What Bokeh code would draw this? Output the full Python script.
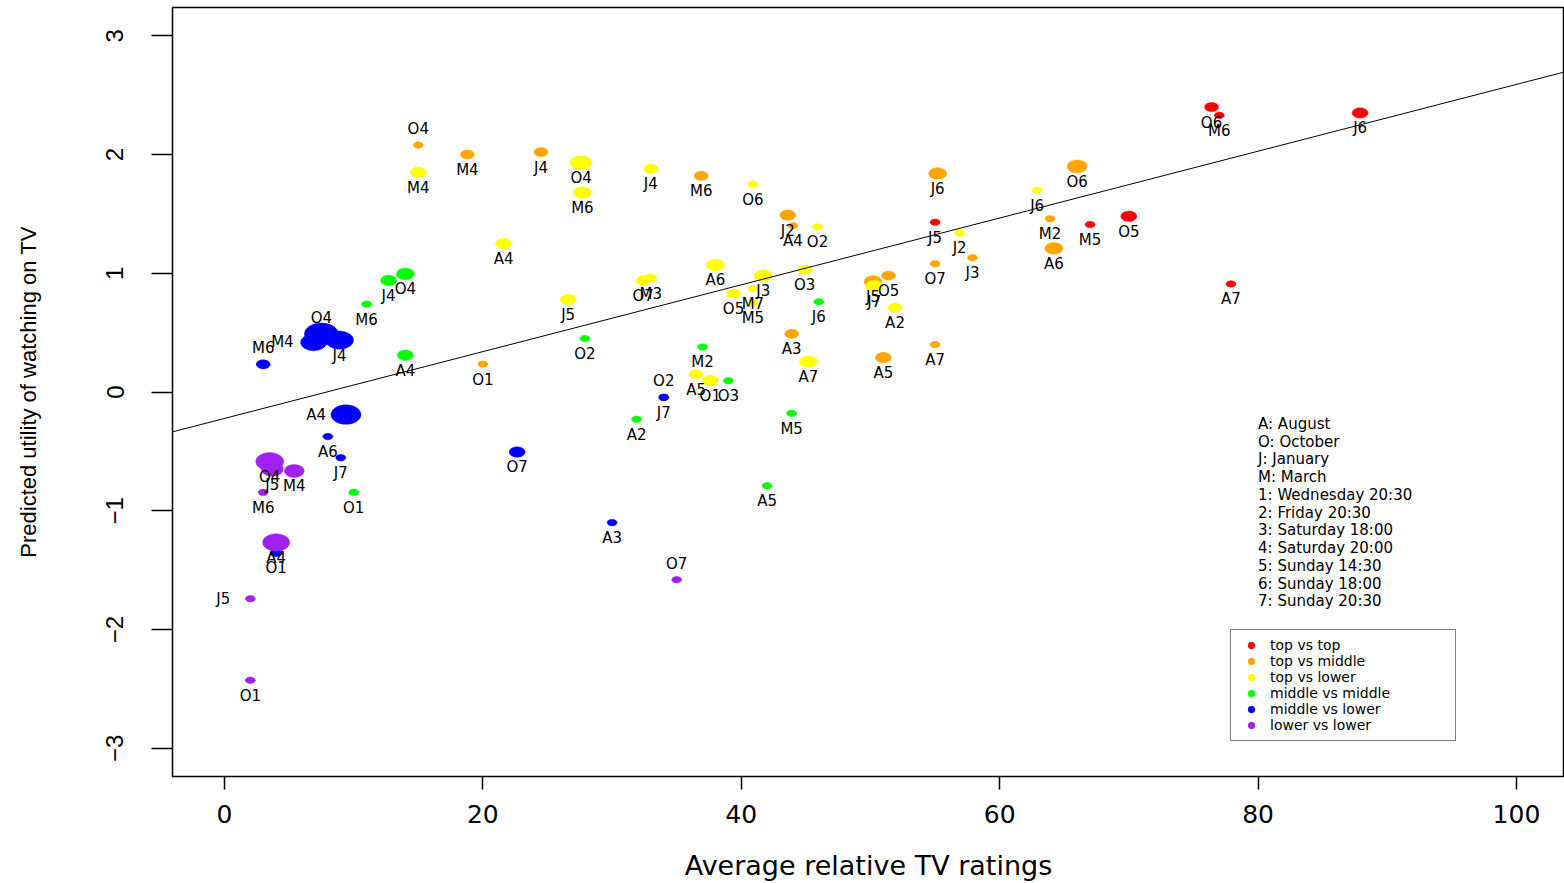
from bokeh.plotting import figure
from bokeh.models import ColumnDataSource, Range1d, FixedTicker, Slope, Legend, LegendItem
from bokeh.core.properties import value
from bokeh.embed import file_html
from bokeh.resources import INLINE

# ---------------- data ----------------
groups = ["top vs top", "top vs middle", "top vs lower",
          "middle vs middle", "middle vs lower", "lower vs lower"]
group_colors = ["#FF0000", "#FFA500", "#FFFF00", "#00FF00", "#0000FF", "#A020F0"]

tt_codes = ["J5", "M5", "O5", "O6", "M6", "J6", "A7"]
tt_x = [55.0, 67.0, 70.0, 76.4, 77.0, 87.9, 77.9]
tt_y = [1.43, 1.41, 1.48, 2.40, 2.33, 2.35, 0.91]
tt_w = [10, 10, 16, 14, 10, 16, 10]

tm_codes = ["O4", "M4", "J4", "M6", "J2", "A4", "J6", "O6", "M2", "A6", "J3", "O7",
            "J5", "O5", "A3", "A5", "A7", "O1"]
tm_x = [15.0, 18.8, 24.5, 36.9, 43.6, 44.0, 55.2, 66.0, 63.9, 64.2, 57.9, 55.0,
        50.2, 51.4, 43.9, 51.0, 55.0, 20.0]
tm_y = [2.08, 2.00, 2.02, 1.82, 1.49, 1.40, 1.84, 1.90, 1.46, 1.21, 1.13, 1.08,
        0.93, 0.98, 0.49, 0.29, 0.40, 0.235]
tm_w = [10, 14, 14, 14, 16, 10, 18, 20, 10, 18, 10, 10, 18, 14, 14, 16, 10, 10]

tl_codes = ["M4", "O4", "M6", "J4", "O6", "O2", "J6", "J2", "A4", "O7", "M3", "A6",
            "J3", "O3", "M7", "M5", "O5", "J5", "J7", "A2", "A7", "A5", "O1"]
tl_x = [15.0, 27.6, 27.7, 33.0, 40.9, 45.9, 62.9, 56.9, 21.6, 32.4, 33.0, 38.0,
        41.7, 44.9, 40.9, 40.9, 39.4, 26.6, 50.3, 51.9, 45.2, 36.5, 37.6]
tl_y = [1.85, 1.93, 1.68, 1.88, 1.75, 1.39, 1.70, 1.34, 1.25, 0.94, 0.96, 1.07,
        0.98, 1.03, 0.87, 0.75, 0.83, 0.78, 0.89, 0.71, 0.255, 0.15, 0.095]
tl_w = [16, 22, 18, 14, 10, 10, 10, 10, 16, 14, 12, 18,
        18, 14, 10, 10, 14, 16, 18, 14, 18, 14, 16]

mm_codes = ["J4", "O4", "M6", "A4", "O2", "M2", "O3", "J6", "A2", "M5", "A5", "O1"]
mm_x = [12.7, 14.0, 11.0, 14.0, 27.9, 37.0, 39.0, 46.0, 31.9, 43.9, 42.0, 10.0]
mm_y = [0.94, 0.995, 0.74, 0.31, 0.45, 0.38, 0.095, 0.76, -0.23, -0.18, -0.79, -0.845]
mm_w = [16, 18, 10, 16, 10, 10, 10, 10, 10, 10, 10, 10]

ml_codes = ["M6", "O4", "M4", "J4", "A4", "A6", "J7", "O7", "O2", "J7", "A3", "O1"]
ml_x = [3.0, 7.5, 6.9, 8.9, 9.4, 8.0, 9.0, 22.65, 34.0, 34.0, 30.0, 4.0]
ml_y = [0.233, 0.488, 0.418, 0.437, -0.19, -0.375, -0.553, -0.505, -0.045, -0.045, -1.10, -1.355]
ml_w = [14, 34, 26, 28, 30, 10, 10, 16, 10, 10, 10, 12]

ll_codes = ["O4", "J5", "M4", "M6", "A4", "J5", "O1", "O7"]
ll_x = [3.5, 3.7, 5.4, 3.0, 4.0, 2.0, 2.0, 35.0]
ll_y = [-0.586, -0.65, -0.665, -0.845, -1.267, -1.741, -2.428, -1.581]
ll_w = [28, 22, 20, 10, 27, 10, 10, 10]

# label placement relative to point: b=below, a=above, l=left
tt_pos = ["b"] * 7
tm_pos = ["a"] + ["b"] * 17
tl_pos = ["b"] * 23
mm_pos = ["b"] * 12
ml_pos = ["a", "a", "l", "b", "l", "b", "b", "b", "a", "b", "b", "b"]
ll_pos = ["b", "b", "b", "b", "b", "l", "b", "a"]

fit_intercept = -0.2226
fit_slope = 0.02813

x_ticks = [0, 20, 40, 60, 80, 100]
y_ticks = [-3, -2, -1, 0, 1, 2, 3]

notes = ["A: August", "O: October", "J: January", "M: March",
         "1: Wednesday 20:30", "2: Friday 20:30", "3: Saturday 18:00",
         "4: Saturday 20:00", "5: Sunday 14:30", "6: Sunday 18:00", "7: Sunday 20:30"]

# ---------------- figure ----------------
p = figure(width=1564, height=883,
           x_range=Range1d(-4.025, 103.72), y_range=Range1d(-3.238, 3.238),
           output_backend="svg", toolbar_location=None,
           min_border_left=172, min_border_right=0, min_border_top=7, min_border_bottom=106)
p.xgrid.visible = False
p.ygrid.visible = False
p.outline_line_color = "black"
p.outline_line_width = 1.5
p.background_fill_color = "white"
p.border_fill_color = "white"

xa = p.xaxis[0]
xa.ticker = FixedTicker(ticks=x_ticks)
xa.axis_line_color = None
xa.major_tick_out = 13
xa.major_tick_in = 0
xa.major_tick_line_width = 1.5
xa.minor_tick_line_color = None
xa.major_label_text_font = "DejaVu Sans"
xa.major_label_text_font_size = "25px"
xa.major_label_text_color = "black"
xa.major_label_standoff = 15
xa.axis_label = "Average relative TV ratings"
xa.axis_label_text_font = "DejaVu Sans"
xa.axis_label_text_font_size = "27px"
xa.axis_label_text_font_style = "normal"
xa.axis_label_text_color = "black"
xa.axis_label_standoff = 24

ya = p.yaxis[0]
ya.ticker = FixedTicker(ticks=y_ticks)
ya.axis_line_color = None
ya.major_tick_out = 21
ya.major_tick_in = 0
ya.major_tick_line_width = 1.5
ya.minor_tick_line_color = None
ya.major_label_orientation = "vertical"
ya.major_label_text_font = "Liberation Sans"
ya.major_label_text_font_size = "24px"
ya.major_label_text_color = "black"
ya.major_label_standoff = 28
ya.axis_label = "Predicted utility of watching on TV"
ya.axis_label_text_font = "Liberation Sans"
ya.axis_label_text_font_size = "22px"
ya.axis_label_text_font_style = "normal"
ya.axis_label_text_color = "black"
ya.axis_label_standoff = 63

# regression line
p.add_layout(Slope(gradient=fit_slope, y_intercept=fit_intercept,
                   line_color="black", line_width=1))

series = [
    (tt_codes, tt_x, tt_y, tt_w, tt_pos),
    (tm_codes, tm_x, tm_y, tm_w, tm_pos),
    (tl_codes, tl_x, tl_y, tl_w, tl_pos),
    (mm_codes, mm_x, mm_y, mm_w, mm_pos),
    (ml_codes, ml_x, ml_y, ml_w, ml_pos),
    (ll_codes, ll_x, ll_y, ll_w, ll_pos),
]

lab = {"b": dict(x=[], y=[], t=[]), "a": dict(x=[], y=[], t=[]), "l": dict(x=[], y=[], t=[])}
for (codes, xs, ys, ws, pos), col in zip(series, group_colors):
    src = ColumnDataSource(dict(x=xs, y=ys, w=ws, h=[wi * 0.65 for wi in ws]))
    p.ellipse(x="x", y="y", width="w", height="h",
              width_units="screen", height_units="screen",
              source=src, fill_color=col, line_color=col, line_width=0.5)
    for c, xv, yv, ps in zip(codes, xs, ys, pos):
        lab[ps]["x"].append(xv)
        lab[ps]["y"].append(yv)
        lab[ps]["t"].append(c)

txt = dict(text_font=value("DejaVu Sans"), text_font_size="15px", text_color="black",
           text_baseline="middle")
p.text(x=lab["b"]["x"], y=lab["b"]["y"], text=lab["b"]["t"], x_offset=0, y_offset=15.5,
       text_align="center", **txt)
p.text(x=lab["a"]["x"], y=lab["a"]["y"], text=lab["a"]["t"], x_offset=0, y_offset=-16,
       text_align="center", **txt)
p.text(x=lab["l"]["x"], y=lab["l"]["y"], text=lab["l"]["t"], x_offset=-20, y_offset=0,
       text_align="right", **txt)

# explanatory notes
note_x = 80.0
note_y0 = -0.269
note_step = 0.1493
p.text(x=[note_x] * len(notes), y=[note_y0 - i * note_step for i in range(len(notes))],
       text=notes, text_align="left", **txt)

# legend (proxy renderers holding one invisible point so the legend can draw the glyph)
nan = float("nan")
items = []
for g, col in zip(groups, group_colors):
    r = p.scatter(x=[nan], y=[nan], marker="circle", size=8, fill_color=col, line_color=col)
    items.append(LegendItem(label=g, renderers=[r]))
leg = Legend(items=items, location=(1058, 35),
             border_line_color="black", border_line_width=1.5,
             background_fill_color="white", background_fill_alpha=1.0,
             label_text_font="DejaVu Sans", label_text_font_size="14px",
             label_text_color="black",
             glyph_width=26, glyph_height=16, label_height=16, label_width=178,
             label_standoff=6, spacing=0, padding=7, margin=0)
p.add_layout(leg)

open("out.html", "w").write(file_html(p, INLINE))
